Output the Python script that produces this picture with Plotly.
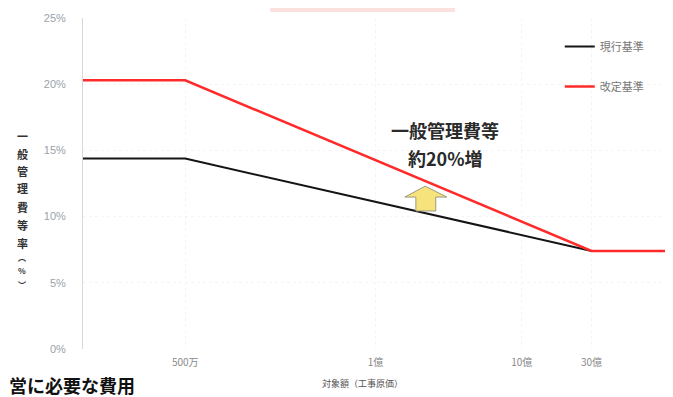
import plotly.graph_objects as go

# 対象額 (工事原価, 円) and 一般管理費等率 (%)
amounts = [1e6, 5e6, 3e9, 1e10]
current_rate = [14.38, 14.38, 7.41, 7.41]   # 現行基準
revised_rate = [20.29, 20.29, 7.41, 7.41]   # 改定基準

x_tick_vals = [5e6, 1e8, 1e9, 3e9]
x_tick_text = ["500万", "1億", "10億", "30億"]
y_tick_vals = [0, 5, 10, 15, 20, 25]
y_tick_text = ["0%", "5%", "10%", "15%", "20%", "25%"]
y_title_chars = list("一般管理費等率") + ["︵", "%", "︶"]

JP = "Noto Sans CJK JP"

fig = go.Figure()

fig.add_trace(go.Scatter(
    x=amounts, y=current_rate, mode="lines", name="現行基準",
    legendgroup="a", line=dict(color="#141414", width=2)
))
fig.add_trace(go.Scatter(
    x=amounts, y=revised_rate, mode="lines", name="改定基準",
    legendgroup="b", line=dict(color="#ff2b2b", width=2.5)
))

# yellow up arrow between the two lines
arrow = ("M 0.585 0.492 L 0.622 0.459 L 0.603 0.459 L 0.603 0.417 "
         "L 0.569 0.417 L 0.569 0.459 L 0.550 0.459 Z")
fig.add_shape(type="path", path=arrow, xref="paper", yref="paper",
              fillcolor="#f7e37c", line=dict(color="#9a9a80", width=1))

# scan tint band at the top
fig.add_shape(type="rect", xref="paper", yref="paper", x0=0.32, x1=0.636, y0=1.018, y1=1.06,
              fillcolor="rgba(240,170,160,0.35)", line=dict(width=0), layer="below")


def note(x, y, text, size, color, xanchor="center"):
    fig.add_annotation(
        x=x, y=y, xref="paper", yref="paper", showarrow=False,
        xanchor=xanchor, yanchor="middle", text=text, borderpad=0,
        font=dict(family=JP, size=size, color=color)
    )


note(0.619, (349 - 130) / 331, "<b>一般管理費等</b>", 18, "#2a2a2a")
note(0.619, (349 - 158) / 331, "<b>約20%増</b>", 18, "#2a2a2a")

# vertical y-axis title, one character per line
title_y = [136, 154, 171, 188, 207, 225, 243, 257, 270, 284]
for ch, py in zip(y_title_chars, title_y):
    size = 11 if ch not in "︵︶%" else 8
    note((22 - 83) / 585, (349 - py) / 331, "<b>" + ch + "</b>", size, "#333")

note((362 - 83) / 585, (349 - 383) / 331, "対象額（工事原価）", 9, "#555")
note(-0.128, (349 - 385) / 331, "<b>営に必要な費用</b>", 18, "#111", xanchor="left")

fig.update_xaxes(
    type="log", range=[6, 10],
    tickvals=x_tick_vals, ticktext=x_tick_text,
    tickfont=dict(family=JP, size=10, color="#888"),
    showgrid=True, gridcolor="rgba(200,205,215,0.22)", griddash="dot",
    zeroline=False, showline=False, ticks="", ticklabelstandoff=6
)
fig.update_yaxes(
    range=[0, 25], tickvals=y_tick_vals, ticktext=y_tick_text,
    tickfont=dict(family="Liberation Sans", size=11, color="#9aa2aa"),
    showgrid=True, gridcolor="rgba(200,205,215,0.2)", griddash="dot",
    zeroline=False, showline=True, linecolor="#d8d8d8", linewidth=1,
    ticks="", ticklabelstandoff=14
)

fig.update_layout(
    width=665, height=389,
    margin=dict(l=75, r=5, t=10, b=48),
    paper_bgcolor="#ffffff", plot_bgcolor="#ffffff",
    legend=dict(x=0.815, y=0.958, xanchor="left", yanchor="top",
                font=dict(family=JP, size=11, color="#777"),
                tracegroupgap=21, bgcolor="rgba(0,0,0,0)"),
    showlegend=True
)

fig.write_html("out.html")
